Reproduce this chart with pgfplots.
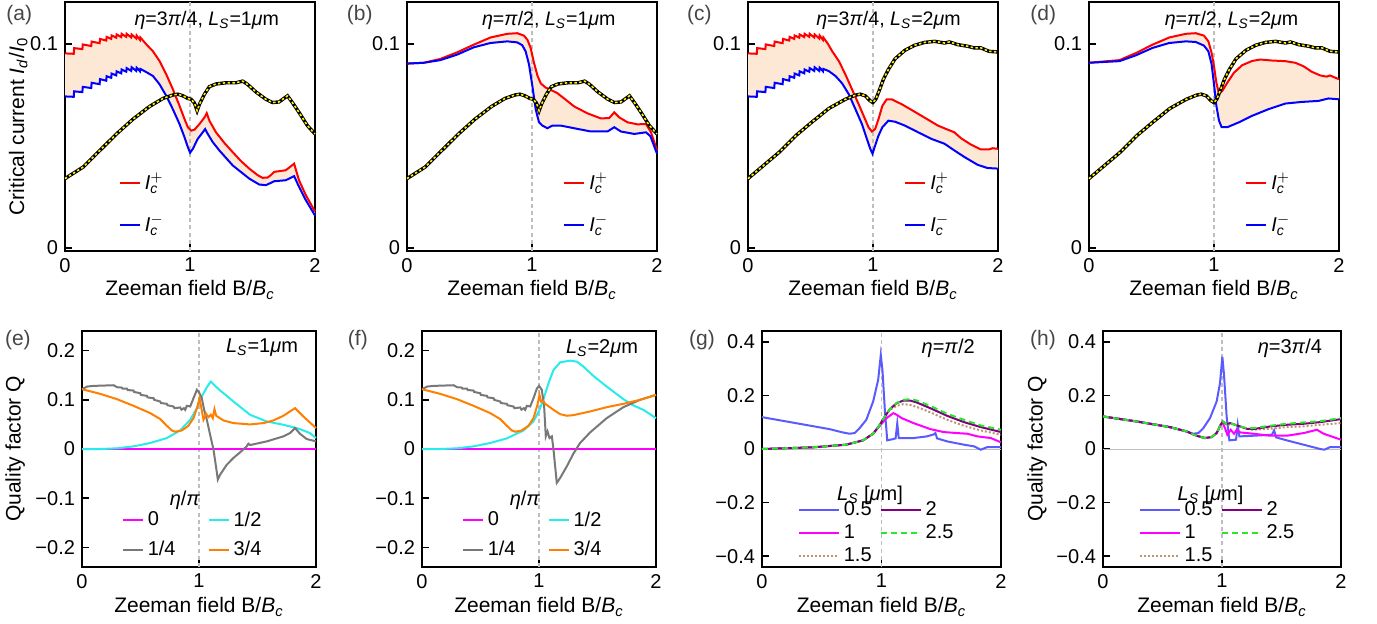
\documentclass[border=0pt]{standalone}
\usepackage{fontspec}
\setmainfont{Liberation Sans}
\usepackage{pgfplots}
\usepackage{pgfplotstable}
\pgfplotsset{compat=1.18}
\usepgfplotslibrary{fillbetween}

\definecolor{peach}{RGB}{253,232,214}
\definecolor{vgray}{RGB}{190,190,190}
\definecolor{lblgray}{RGB}{70,70,70}
\definecolor{qcyan}{RGB}{40,235,235}
\definecolor{qgray}{RGB}{120,120,120}
\definecolor{qorange}{RGB}{255,128,0}
\definecolor{qmag}{RGB}{255,0,255}
\definecolor{gblue}{RGB}{90,90,255}
\definecolor{gpurple}{RGB}{128,0,128}
\definecolor{ggreen}{RGB}{40,230,40}
\definecolor{gbrown}{RGB}{190,150,110}

\newcommand{\Ls}{\textit{L}\textsubscript{\textit{S}}}
\newcommand{\Bc}{\textit{B}\textsubscript{\textit{c}}}
\newcommand{\Ipl}{$\mathit{I}^{+}_{\mathit{c}}$}
\newcommand{\Imi}{$\mathit{I}^{-}_{\mathit{c}}$}

% ---------------- data -----------------
\pgfplotstableread{
x y
0.000 0.0954
0.070 0.0952
0.073 0.0980
0.139 0.0975
0.142 0.0998
0.210 0.0990
0.213 0.1012
0.277 0.1004
0.280 0.1025
0.330 0.1017
0.333 0.1035
0.370 0.1025
0.373 0.1042
0.410 0.1031
0.413 0.1047
0.450 0.1034
0.453 0.1050
0.490 0.1035
0.493 0.1050
0.530 0.1032
0.533 0.1047
0.570 0.1027
0.573 0.1042
0.600 0.1020
0.603 0.1032
0.651 0.0998
0.704 0.0964
0.757 0.0916
0.810 0.0851
0.863 0.0778
0.916 0.0697
0.956 0.0632
0.983 0.0592
1.009 0.0575
1.036 0.0580
1.076 0.0608
1.116 0.0640
1.134 0.0661
1.155 0.0624
1.208 0.0567
1.275 0.0515
1.341 0.0470
1.408 0.0426
1.474 0.0389
1.541 0.0357
1.580 0.0344
1.620 0.0345
1.647 0.0357
1.673 0.0373
1.766 0.0381
1.833 0.0413
1.872 0.0332
1.926 0.0260
2.000 0.0178
}\redA
\pgfplotstableread{
x y
0.000 0.0743
0.070 0.0741
0.073 0.0768
0.139 0.0764
0.142 0.0790
0.210 0.0784
0.213 0.0810
0.277 0.0803
0.280 0.0828
0.330 0.0820
0.333 0.0842
0.370 0.0834
0.373 0.0855
0.410 0.0846
0.413 0.0866
0.450 0.0856
0.453 0.0875
0.490 0.0864
0.493 0.0882
0.530 0.0868
0.533 0.0886
0.570 0.0868
0.573 0.0884
0.600 0.0866
0.603 0.0878
0.651 0.0862
0.704 0.0843
0.757 0.0802
0.810 0.0746
0.863 0.0680
0.916 0.0608
0.956 0.0543
0.983 0.0494
1.001 0.0467
1.023 0.0486
1.062 0.0535
1.102 0.0567
1.121 0.0583
1.142 0.0559
1.182 0.0519
1.235 0.0478
1.341 0.0405
1.474 0.0340
1.554 0.0311
1.607 0.0308
1.647 0.0319
1.673 0.0327
1.766 0.0332
1.833 0.0352
1.872 0.0300
1.926 0.0235
2.000 0.0159
}\blueA
\pgfplotstableread{
x y
0.000 0.0340
0.146 0.0397
0.279 0.0478
0.412 0.0559
0.545 0.0632
0.677 0.0694
0.784 0.0733
0.863 0.0750
0.903 0.0754
0.943 0.0746
0.983 0.0733
1.009 0.0729
1.036 0.0710
1.057 0.0673
1.076 0.0705
1.116 0.0754
1.155 0.0791
1.208 0.0804
1.288 0.0810
1.368 0.0810
1.421 0.0818
1.461 0.0802
1.527 0.0765
1.607 0.0729
1.660 0.0713
1.713 0.0716
1.780 0.0746
1.819 0.0713
1.872 0.0665
1.939 0.0600
2.000 0.0559
}\yelA
\pgfplotstableread{
x y
0.000 0.0904
0.134 0.0908
0.267 0.0927
0.401 0.0959
0.535 0.0997
0.668 0.1032
0.802 0.1050
0.882 0.1053
0.936 0.1041
0.963 0.1021
0.989 0.0981
1.016 0.0908
1.043 0.0846
1.070 0.0807
1.110 0.0786
1.150 0.0775
1.203 0.0759
1.257 0.0733
1.337 0.0694
1.444 0.0660
1.551 0.0635
1.618 0.0637
1.658 0.0665
1.698 0.0640
1.765 0.0616
1.845 0.0606
1.912 0.0608
1.952 0.0567
2.000 0.0478
}\redB
\pgfplotstableread{
x y
0.000 0.0904
0.134 0.0908
0.267 0.0921
0.401 0.0948
0.535 0.0984
0.668 0.1005
0.802 0.1013
0.882 0.1008
0.922 0.0994
0.949 0.0964
0.976 0.0900
1.003 0.0794
1.029 0.0681
1.056 0.0616
1.083 0.0600
1.123 0.0587
1.163 0.0600
1.230 0.0600
1.337 0.0587
1.471 0.0571
1.604 0.0571
1.658 0.0592
1.711 0.0571
1.818 0.0559
1.912 0.0567
1.947 0.0548
2.000 0.0462
}\blueB
\pgfplotstableread{
x y
0.000 0.0954
0.070 0.0952
0.073 0.0980
0.139 0.0975
0.142 0.0998
0.210 0.0990
0.213 0.1012
0.277 0.1004
0.280 0.1025
0.330 0.1017
0.333 0.1035
0.370 0.1025
0.373 0.1042
0.410 0.1031
0.413 0.1047
0.450 0.1034
0.453 0.1050
0.490 0.1035
0.493 0.1050
0.530 0.1032
0.533 0.1047
0.570 0.1027
0.573 0.1042
0.600 0.1020
0.603 0.1032
0.640 0.1000
0.674 0.0964
0.727 0.0916
0.779 0.0851
0.832 0.0778
0.885 0.0705
0.925 0.0648
0.964 0.0592
0.991 0.0571
1.017 0.0583
1.044 0.0632
1.075 0.0697
1.110 0.0729
1.149 0.0729
1.229 0.0705
1.308 0.0677
1.440 0.0629
1.519 0.0600
1.598 0.0580
1.651 0.0567
1.704 0.0538
1.783 0.0507
1.863 0.0483
1.929 0.0483
1.955 0.0489
2.000 0.0486
}\redC
\pgfplotstableread{
x y
0.000 0.0743
0.070 0.0741
0.073 0.0768
0.139 0.0764
0.142 0.0790
0.210 0.0784
0.213 0.0810
0.277 0.0803
0.280 0.0828
0.330 0.0820
0.333 0.0842
0.370 0.0834
0.373 0.0855
0.410 0.0846
0.413 0.0866
0.450 0.0856
0.453 0.0875
0.490 0.0864
0.493 0.0882
0.530 0.0868
0.533 0.0886
0.570 0.0868
0.573 0.0884
0.600 0.0866
0.603 0.0878
0.647 0.0867
0.700 0.0843
0.753 0.0807
0.806 0.0754
0.859 0.0681
0.911 0.0608
0.951 0.0535
0.978 0.0486
0.996 0.0462
1.017 0.0502
1.044 0.0551
1.075 0.0592
1.123 0.0624
1.176 0.0619
1.255 0.0600
1.361 0.0567
1.466 0.0535
1.572 0.0511
1.651 0.0478
1.731 0.0446
1.836 0.0408
1.915 0.0392
2.000 0.0389
}\blueC
\pgfplotstableread{
x y
0.000 0.0340
0.251 0.0470
0.383 0.0551
0.515 0.0619
0.647 0.0684
0.779 0.0729
0.859 0.0749
0.898 0.0754
0.938 0.0746
0.978 0.0721
0.999 0.0713
1.022 0.0729
1.049 0.0770
1.083 0.0827
1.123 0.0875
1.176 0.0927
1.255 0.0969
1.334 0.0994
1.413 0.1008
1.493 0.1013
1.572 0.1005
1.612 0.1010
1.678 0.0997
1.757 0.0989
1.810 0.0981
1.863 0.0981
1.929 0.0964
2.000 0.0961
}\yelC
\pgfplotstableread{
x y
0.000 0.0908
0.244 0.0921
0.377 0.0956
0.509 0.0997
0.642 0.1032
0.775 0.1050
0.854 0.1053
0.920 0.1041
0.955 0.1013
0.981 0.0956
1.000 0.0891
1.019 0.0810
1.040 0.0756
1.066 0.0770
1.106 0.0810
1.159 0.0859
1.225 0.0896
1.305 0.0917
1.371 0.0924
1.464 0.0919
1.570 0.0916
1.650 0.0908
1.716 0.0891
1.782 0.0864
1.849 0.0846
1.902 0.0840
1.928 0.0846
2.000 0.0827
}\redD
\pgfplotstableread{
x y
0.000 0.0908
0.244 0.0916
0.377 0.0945
0.509 0.0981
0.642 0.1005
0.775 0.1013
0.854 0.1010
0.920 0.0992
0.955 0.0964
0.981 0.0900
1.000 0.0802
1.019 0.0697
1.040 0.0624
1.061 0.0592
1.106 0.0592
1.199 0.0616
1.305 0.0648
1.438 0.0681
1.570 0.0708
1.703 0.0716
1.836 0.0721
1.915 0.0733
2.000 0.0729
}\blueD
% ---- bottom row ----
\pgfplotstableread{
x y
0 0
2 0
}\zeroline
\pgfplotstableread{
x y
0.000 0.0000
0.156 0.0000
0.299 0.0014
0.441 0.0054
0.583 0.0122
0.725 0.0223
0.839 0.0378
0.925 0.0595
0.982 0.0831
1.024 0.1068
1.067 0.1257
1.101 0.1372
1.138 0.1284
1.181 0.1189
1.238 0.1081
1.294 0.0966
1.437 0.0696
1.579 0.0561
1.721 0.0493
1.835 0.0426
1.892 0.0378
1.949 0.0324
2.000 0.0223
}\cyanE
\pgfplotstableread{
x y
0.000 0.1216
0.043 0.1270
0.100 0.1284
0.270 0.1297
0.300 0.1257
0.340 0.1250
0.345 0.1230
0.384 0.1230
0.390 0.1200
0.441 0.1189
0.445 0.1160
0.498 0.1135
0.503 0.1100
0.555 0.1081
0.560 0.1050
0.612 0.1034
0.617 0.1000
0.669 0.0966
0.675 0.0935
0.725 0.0919
0.730 0.0890
0.782 0.0865
0.790 0.0830
0.839 0.0845
0.850 0.0800
0.870 0.0830
0.882 0.0797
0.896 0.0878
0.925 0.0865
0.953 0.1034
0.982 0.1203
1.001 0.1149
1.024 0.1034
1.044 0.0797
1.067 0.0595
1.095 0.0291
1.124 -0.0014
1.147 -0.0385
1.161 -0.0622
1.181 -0.0520
1.238 -0.0318
1.294 -0.0182
1.351 -0.0068
1.408 0.0054
1.422 0.0108
1.437 0.0081
1.579 0.0155
1.721 0.0257
1.778 0.0324
1.821 0.0426
1.863 0.0311
1.920 0.0203
2.000 0.0155
}\grayE
\pgfplotstableread{
x y
0.000 0.1216
0.156 0.1122
0.299 0.1014
0.441 0.0878
0.583 0.0730
0.669 0.0608
0.725 0.0473
0.768 0.0378
0.797 0.0351
0.853 0.0378
0.910 0.0473
0.953 0.0628
0.987 0.0865
1.004 0.1034
1.018 0.0865
1.038 0.0595
1.061 0.0716
1.081 0.0649
1.101 0.0696
1.118 0.0628
1.132 0.0811
1.147 0.0676
1.209 0.0581
1.294 0.0527
1.437 0.0500
1.551 0.0527
1.636 0.0581
1.721 0.0676
1.821 0.0831
1.892 0.0662
2.000 0.0426
}\orangeE
\pgfplotstableread{
x y
0.000 0.0000
0.156 0.0000
0.299 0.0014
0.441 0.0054
0.583 0.0122
0.725 0.0216
0.868 0.0378
0.953 0.0561
1.004 0.0797
1.038 0.1014
1.081 0.1338
1.124 0.1608
1.181 0.1764
1.266 0.1797
1.323 0.1777
1.380 0.1676
1.465 0.1486
1.579 0.1270
1.721 0.1014
1.807 0.0885
1.892 0.0797
2.000 0.0628
}\cyanF
\pgfplotstableread{
x y
0.000 0.1216
0.043 0.1270
0.100 0.1284
0.270 0.1297
0.300 0.1257
0.340 0.1250
0.345 0.1230
0.384 0.1230
0.390 0.1200
0.441 0.1189
0.445 0.1160
0.498 0.1135
0.503 0.1100
0.555 0.1081
0.560 0.1050
0.612 0.1034
0.617 0.1000
0.669 0.0966
0.675 0.0935
0.725 0.0919
0.730 0.0890
0.782 0.0865
0.790 0.0830
0.839 0.0845
0.850 0.0800
0.870 0.0830
0.882 0.0797
0.896 0.0878
0.925 0.0865
0.953 0.1034
0.982 0.1230
1.001 0.1284
1.024 0.1203
1.044 0.0865
1.058 0.0257
1.073 0.0358
1.090 0.0223
1.110 0.0257
1.124 -0.0014
1.152 -0.0689
1.181 -0.0588
1.238 -0.0351
1.294 -0.0095
1.351 0.0122
1.437 0.0338
1.579 0.0628
1.721 0.0851
1.863 0.1000
2.000 0.1101
}\grayF
\pgfplotstableread{
x y
0.000 0.1216
0.156 0.1122
0.299 0.1014
0.441 0.0878
0.583 0.0730
0.669 0.0608
0.725 0.0473
0.768 0.0378
0.797 0.0351
0.853 0.0378
0.910 0.0473
0.953 0.0628
0.987 0.0900
1.004 0.1101
1.018 0.0966
1.033 0.0986
1.053 0.0919
1.124 0.0797
1.181 0.0709
1.238 0.0676
1.294 0.0689
1.437 0.0764
1.579 0.0851
1.721 0.0919
1.863 0.1000
2.000 0.1101
}\orangeF
\pgfplotstableread{
x y
0.000 0.1189
0.282 0.0966
0.563 0.0743
0.676 0.0619
0.732 0.0570
0.775 0.0594
0.817 0.0780
0.873 0.1090
0.930 0.1771
0.972 0.2576
0.994 0.3505
1.008 0.2947
1.028 0.1461
1.048 0.0322
1.099 0.0372
1.118 0.0396
1.132 0.0966
1.144 0.0409
1.268 0.0409
1.380 0.0471
1.437 0.0545
1.451 0.0594
1.465 0.0396
1.549 0.0285
1.690 0.0161
1.775 0.0099
1.831 -0.0025
1.887 0.0074
2.000 0.0074
}\blueG
\pgfplotstableread{
x y
0.000 0.0000
0.423 0.0062
0.704 0.0161
0.845 0.0322
0.930 0.0570
0.986 0.0867
1.042 0.1152
1.099 0.1337
1.127 0.1276
1.169 0.1152
1.268 0.0966
1.408 0.0743
1.521 0.0632
1.634 0.0594
1.718 0.0570
1.803 0.0471
1.915 0.0409
2.000 0.0248
}\magG
\pgfplotstableread{
x y
0.000 0.0000
0.423 0.0062
0.704 0.0161
0.845 0.0322
0.930 0.0570
0.986 0.0904
1.028 0.1214
1.070 0.1486
1.127 0.1709
1.183 0.1808
1.239 0.1808
1.296 0.1734
1.408 0.1523
1.549 0.1238
1.690 0.1003
1.831 0.0817
2.000 0.0632
}\purG
\pgfplotstableread{
x y
0.000 0.0000
0.423 0.0062
0.704 0.0161
0.845 0.0322
0.930 0.0570
0.986 0.0904
1.028 0.1214
1.070 0.1486
1.127 0.1720
1.183 0.1833
1.239 0.1858
1.296 0.1808
1.408 0.1610
1.549 0.1313
1.690 0.1090
1.831 0.0879
2.000 0.0718
}\grnG
\pgfplotstableread{
x y
0.000 0.0000
0.423 0.0062
0.704 0.0161
0.845 0.0322
0.930 0.0570
0.986 0.0904
1.028 0.1214
1.070 0.1461
1.127 0.1610
1.183 0.1672
1.239 0.1647
1.324 0.1523
1.437 0.1313
1.549 0.1090
1.690 0.0867
1.831 0.0693
2.000 0.0532
}\brnG
\pgfplotstableread{
x y
0.000 0.1214
0.281 0.1028
0.562 0.0817
0.702 0.0656
0.758 0.0570
0.801 0.0594
0.843 0.0780
0.899 0.1152
0.955 0.1771
0.983 0.2452
1.003 0.3443
1.017 0.2762
1.039 0.1214
1.062 0.0322
1.118 0.0347
1.132 0.0904
1.146 0.0471
1.264 0.0495
1.419 0.0533
1.438 0.0693
1.455 0.0433
1.545 0.0322
1.685 0.0161
1.826 0.0000
1.860 -0.0025
1.910 0.0074
2.000 0.0074
}\blueH
\pgfplotstableread{
x y
0.000 0.1214
0.281 0.1028
0.562 0.0817
0.702 0.0656
0.787 0.0495
0.857 0.0409
0.913 0.0446
0.955 0.0594
0.989 0.0904
1.006 0.0966
1.025 0.0780
1.045 0.0533
1.073 0.0718
1.101 0.0570
1.124 0.0718
1.152 0.0619
1.264 0.0570
1.404 0.0495
1.545 0.0495
1.685 0.0594
1.798 0.0718
1.854 0.0570
2.000 0.0347
}\magH
\pgfplotstableread{
x y
0.000 0.1214
0.281 0.1028
0.562 0.0817
0.702 0.0656
0.787 0.0495
0.857 0.0409
0.913 0.0446
0.955 0.0594
0.989 0.0904
1.006 0.1028
1.039 0.0929
1.067 0.0966
1.110 0.0904
1.152 0.0842
1.208 0.0755
1.264 0.0743
1.404 0.0842
1.545 0.0904
1.685 0.0941
1.826 0.1003
2.000 0.1115
}\purH
\pgfplotstableread{
x y
0.000 0.1214
0.281 0.1028
0.562 0.0817
0.702 0.0656
0.787 0.0495
0.857 0.0409
0.913 0.0446
0.955 0.0594
0.989 0.0904
1.006 0.1028
1.039 0.0929
1.067 0.0966
1.110 0.0904
1.152 0.0842
1.208 0.0780
1.264 0.0780
1.404 0.0867
1.545 0.0941
1.685 0.0990
1.826 0.1040
2.000 0.1152
}\grnH
\pgfplotstableread{
x y
0.000 0.1214
0.281 0.1028
0.562 0.0817
0.702 0.0656
0.787 0.0495
0.857 0.0409
0.913 0.0446
0.955 0.0594
0.989 0.0904
1.006 0.1000
1.039 0.0904
1.095 0.0929
1.208 0.0743
1.264 0.0718
1.404 0.0755
1.545 0.0817
1.685 0.0842
1.826 0.0904
2.000 0.0966
}\brnH

% ---------------- styles -----------------
\pgfplotsset{
  base/.style={scale only axis, clip=false, xmin=0, xmax=2,
    xtick={0,1,2}, xticklabels={0,1,2},
    axis line style={line width=0.9pt}, tick align=inside,
    xtick pos=left, ytick pos=left,
    major tick length=3.5pt, every tick/.style={black, line width=0.8pt},
    tick label style={font=\fontsize{10}{12}\selectfont},
    label style={font=\fontsize{10.5}{12.5}\selectfont},
    xlabel={Zeeman field B/\Bc},
    legend style={draw=none, fill=none, inner sep=0pt, outer sep=0pt,
      font=\fontsize{10}{12}\selectfont, cells={anchor=west}},
  },
  toprow/.style={base, width=125pt, height=124.5pt, ymin=-0.0015, ymax=0.1206,
    ytick={0,0.1}, yticklabels={0,0.1},
    xlabel style={at={(axis description cs:0.5,-0.157)}, anchor=center},
    legend style={row sep=7pt},
    legend image code/.code={\draw[##1] (0pt,0pt) -- (10pt,0pt);},
  },
  botrow/.style={base, height=118pt,
    xlabel style={at={(axis description cs:0.5,-0.169)}, anchor=center},
  },
  qrow/.style={botrow, ymin=-0.24, ymax=0.24, ytick={-0.2,-0.1,0,0.1,0.2},
    yticklabels={−0.2,−0.1,0,0.1,0.2}, legend columns=2,
    legend style={row sep=2pt, /tikz/every even column/.append style={column sep=14pt}},
    legend image code/.code={\draw[##1] (0pt,0pt) -- (10pt,0pt);},
  },
  lrow/.style={botrow, ymin=-0.44, ymax=0.44, ytick={-0.4,-0.2,0,0.2,0.4},
    yticklabels={−0.4,−0.2,0,0.2,0.4}, legend columns=2,
    legend style={row sep=-1pt, /tikz/every even column/.append style={column sep=2pt}},
    legend image code/.code={\draw[##1] (0pt,0pt) -- (20pt,0pt);},
  },
  vl/.style={vgray, line width=0.8pt, dash pattern=on 2pt off 1.6pt, forget plot},
  rl/.style={red, line width=1pt, forget plot},
  bl/.style={blue, line width=1pt, forget plot},
  yk/.style={black, line width=1.7pt, forget plot},
  yy/.style={yellow, line width=0.8pt, dash pattern=on 1.2pt off 1.2pt, forget plot},
  ln/.style={line width=1pt, forget plot},
}

\begin{document}
\begin{tikzpicture}[font=\fontsize{10}{12}\selectfont]

% ===== (a) =====
\begin{axis}[toprow, at={(32.5pt,186pt)}, anchor=south west,
  ylabel={Critical current \textit{I}\textsubscript{\textit{d}}/\textit{I}\textsubscript{0}},
  ylabel style={at={(axis description cs:-0.187,0.5)}, anchor=center},
  legend style={at={(axis description cs:0.215,0.19)}, anchor=west}]
\addplot[vl] coordinates {(1,-0.0015) (1,0.1206)};
\addplot[draw=none, name path=Ra, forget plot] table {\redA};
\addplot[draw=none, name path=Ba, forget plot] table {\blueA};
\addplot[peach, forget plot] fill between[of=Ra and Ba];
\addplot[rl] table {\redA};
\addplot[bl] table {\blueA};
\addplot[yk] table {\yelA};
\addplot[yy] table {\yelA};
\addlegendimage{red, line width=1pt}\addlegendentry{\Ipl}
\addlegendimage{blue, line width=1pt}\addlegendentry{\Imi}
\node[text=lblgray, font=\fontsize{10.5}{12}\selectfont] at (axis description cs:-0.183,0.948) {(a)};
\node[font=\fontsize{9.8}{12}\selectfont] at (axis description cs:0.567,0.924) {\textit{η}=3\textit{π}/4, \Ls=1\textit{μ}m};
\end{axis}

% ===== (b) =====
\begin{axis}[toprow, at={(203.5pt,186pt)}, anchor=south west,
  legend style={at={(axis description cs:0.625,0.19)}, anchor=west}]
\addplot[vl] coordinates {(1,-0.0015) (1,0.1206)};
\addplot[draw=none, name path=Rb, forget plot] table {\redB};
\addplot[draw=none, name path=Bb, forget plot] table {\blueB};
\addplot[peach, forget plot] fill between[of=Rb and Bb];
\addplot[rl] table {\redB};
\addplot[bl] table {\blueB};
\addplot[yk] table {\yelA};
\addplot[yy] table {\yelA};
\addlegendimage{red, line width=1pt}\addlegendentry{\Ipl}
\addlegendimage{blue, line width=1pt}\addlegendentry{\Imi}
\node[text=lblgray, font=\fontsize{10.5}{12}\selectfont] at (axis description cs:-0.189,0.948) {(b)};
\node[font=\fontsize{9.8}{12}\selectfont] at (axis description cs:0.567,0.924) {\textit{η}=\textit{π}/2, \Ls=1\textit{μ}m};
\end{axis}

% ===== (c) =====
\begin{axis}[toprow, at={(374pt,186pt)}, anchor=south west,
  legend style={at={(axis description cs:0.625,0.19)}, anchor=west}]
\addplot[vl] coordinates {(1,-0.0015) (1,0.1206)};
\addplot[draw=none, name path=Rc, forget plot] table {\redC};
\addplot[draw=none, name path=Bcc, forget plot] table {\blueC};
\addplot[peach, forget plot] fill between[of=Rc and Bcc];
\addplot[rl] table {\redC};
\addplot[bl] table {\blueC};
\addplot[yk] table {\yelC};
\addplot[yy] table {\yelC};
\addlegendimage{red, line width=1pt}\addlegendentry{\Ipl}
\addlegendimage{blue, line width=1pt}\addlegendentry{\Imi}
\node[text=lblgray, font=\fontsize{10.5}{12}\selectfont] at (axis description cs:-0.195,0.948) {(c)};
\node[font=\fontsize{9.8}{12}\selectfont] at (axis description cs:0.562,0.924) {\textit{η}=3\textit{π}/4, \Ls=2\textit{μ}m};
\end{axis}

% ===== (d) =====
\begin{axis}[toprow, at={(544.5pt,186pt)}, anchor=south west,
  legend style={at={(axis description cs:0.625,0.19)}, anchor=west}]
\addplot[vl] coordinates {(1,-0.0015) (1,0.1206)};
\addplot[draw=none, name path=Rd, forget plot] table {\redD};
\addplot[draw=none, name path=Bd, forget plot] table {\blueD};
\addplot[peach, forget plot] fill between[of=Rd and Bd];
\addplot[rl] table {\redD};
\addplot[bl] table {\blueD};
\addplot[yk] table {\yelC};
\addplot[yy] table {\yelC};
\addlegendimage{red, line width=1pt}\addlegendentry{\Ipl}
\addlegendimage{blue, line width=1pt}\addlegendentry{\Imi}
\node[text=lblgray, font=\fontsize{10.5}{12}\selectfont] at (axis description cs:-0.183,0.948) {(d)};
\node[font=\fontsize{9.8}{12}\selectfont] at (axis description cs:0.57,0.924) {\textit{η}=\textit{π}/2, \Ls=2\textit{μ}m};
\end{axis}

% ===== (e) =====
\begin{axis}[qrow, width=117pt, at={(41pt,28pt)}, anchor=south west,
  ylabel={Quality factor Q},
  ylabel style={at={(axis description cs:-0.286,0.5)}, anchor=center},
  legend style={at={(axis description cs:0.17,0.135)}, anchor=west}]
\addplot[vl] coordinates {(1,-0.24) (1,0.24)};
\addplot[ln, qmag] table {\zeroline};
\addplot[ln, qcyan] table {\cyanE};
\addplot[ln, qgray] table {\grayE};
\addplot[ln, qorange] table {\orangeE};
\addlegendimage{qmag, line width=1pt}\addlegendentry{0}
\addlegendimage{qcyan, line width=1pt}\addlegendentry{1/2}
\addlegendimage{qgray, line width=1pt}\addlegendentry{1/4}
\addlegendimage{qorange, line width=1pt}\addlegendentry{3/4}
\node at (axis description cs:0.44,0.284) {\textit{η}/\textit{π}};
\node[text=lblgray, font=\fontsize{10.5}{12}\selectfont] at (axis description cs:-0.274,0.962) {(e)};
\node[anchor=east] at (axis description cs:0.953,0.928) {\Ls=1\textit{μ}m};
\end{axis}

% ===== (f) =====
\begin{axis}[qrow, width=117pt, at={(211pt,28pt)}, anchor=south west,
  legend style={at={(axis description cs:0.17,0.135)}, anchor=west}]
\addplot[vl] coordinates {(1,-0.24) (1,0.24)};
\addplot[ln, qmag] table {\zeroline};
\addplot[ln, qcyan] table {\cyanF};
\addplot[ln, qgray] table {\grayF};
\addplot[ln, qorange] table {\orangeF};
\addlegendimage{qmag, line width=1pt}\addlegendentry{0}
\addlegendimage{qcyan, line width=1pt}\addlegendentry{1/2}
\addlegendimage{qgray, line width=1pt}\addlegendentry{1/4}
\addlegendimage{qorange, line width=1pt}\addlegendentry{3/4}
\node at (axis description cs:0.44,0.284) {\textit{η}/\textit{π}};
\node[text=lblgray, font=\fontsize{10.5}{12}\selectfont] at (axis description cs:-0.274,0.962) {(f)};
\node[anchor=east] at (axis description cs:0.953,0.928) {\Ls=2\textit{μ}m};
\end{axis}

% ===== (g) =====
\begin{axis}[lrow, width=119.5pt, at={(381pt,28pt)}, anchor=south west,
  legend style={at={(axis description cs:0.15,0.145)}, anchor=west}]
\addplot[vl] coordinates {(1,-0.44) (1,0.44)};
\addplot[vgray, line width=0.5pt, forget plot] table {\zeroline};
\addplot[ln, gblue] table {\blueG};
\addplot[ln, qmag] table {\magG};
\addplot[ln, gbrown, dash pattern=on 1pt off 1pt] table {\brnG};
\addplot[ln, gpurple] table {\purG};
\addplot[ln, ggreen, dash pattern=on 3pt off 2pt] table {\grnG};
\addlegendimage{gblue, line width=1pt}\addlegendentry{0.5}
\addlegendimage{gpurple, line width=1pt}\addlegendentry{2}
\addlegendimage{qmag, line width=1pt}\addlegendentry{1}
\addlegendimage{ggreen, line width=1pt, dash pattern=on 3pt off 2pt}\addlegendentry{2.5}
\addlegendimage{gbrown, line width=1pt, dash pattern=on 1pt off 1pt}\addlegendentry{1.5}
\node at (axis description cs:0.452,0.305) {\Ls{} [\textit{μ}m]};
\node[text=lblgray, font=\fontsize{10.5}{12}\selectfont] at (axis description cs:-0.251,0.962) {(g)};
\node[anchor=east] at (axis description cs:0.92,0.928) {\textit{η}=\textit{π}/2};
\end{axis}

% ===== (h) =====
\begin{axis}[lrow, width=119pt, at={(551.5pt,28pt)}, anchor=south west,
  ylabel={Quality factor Q},
  ylabel style={at={(axis description cs:-0.277,0.5)}, anchor=center},
  legend style={at={(axis description cs:0.15,0.145)}, anchor=west}]
\addplot[vl] coordinates {(1,-0.44) (1,0.44)};
\addplot[vgray, line width=0.5pt, forget plot] table {\zeroline};
\addplot[ln, gblue] table {\blueH};
\addplot[ln, qmag] table {\magH};
\addplot[ln, gbrown, dash pattern=on 1pt off 1pt] table {\brnH};
\addplot[ln, gpurple] table {\purH};
\addplot[ln, ggreen, dash pattern=on 3pt off 2pt] table {\grnH};
\addlegendimage{gblue, line width=1pt}\addlegendentry{0.5}
\addlegendimage{gpurple, line width=1pt}\addlegendentry{2}
\addlegendimage{qmag, line width=1pt}\addlegendentry{1}
\addlegendimage{ggreen, line width=1pt, dash pattern=on 3pt off 2pt}\addlegendentry{2.5}
\addlegendimage{gbrown, line width=1pt, dash pattern=on 1pt off 1pt}\addlegendentry{1.5}
\node at (axis description cs:0.452,0.305) {\Ls{} [\textit{μ}m]};
\node[text=lblgray, font=\fontsize{10.5}{12}\selectfont] at (axis description cs:-0.252,0.962) {(h)};
\node[anchor=east] at (axis description cs:0.95,0.928) {\textit{η}=3\textit{π}/4};
\end{axis}

\pgfresetboundingbox
\path (0,0) rectangle (688.5pt,311.5pt);
\end{tikzpicture}
\end{document}
